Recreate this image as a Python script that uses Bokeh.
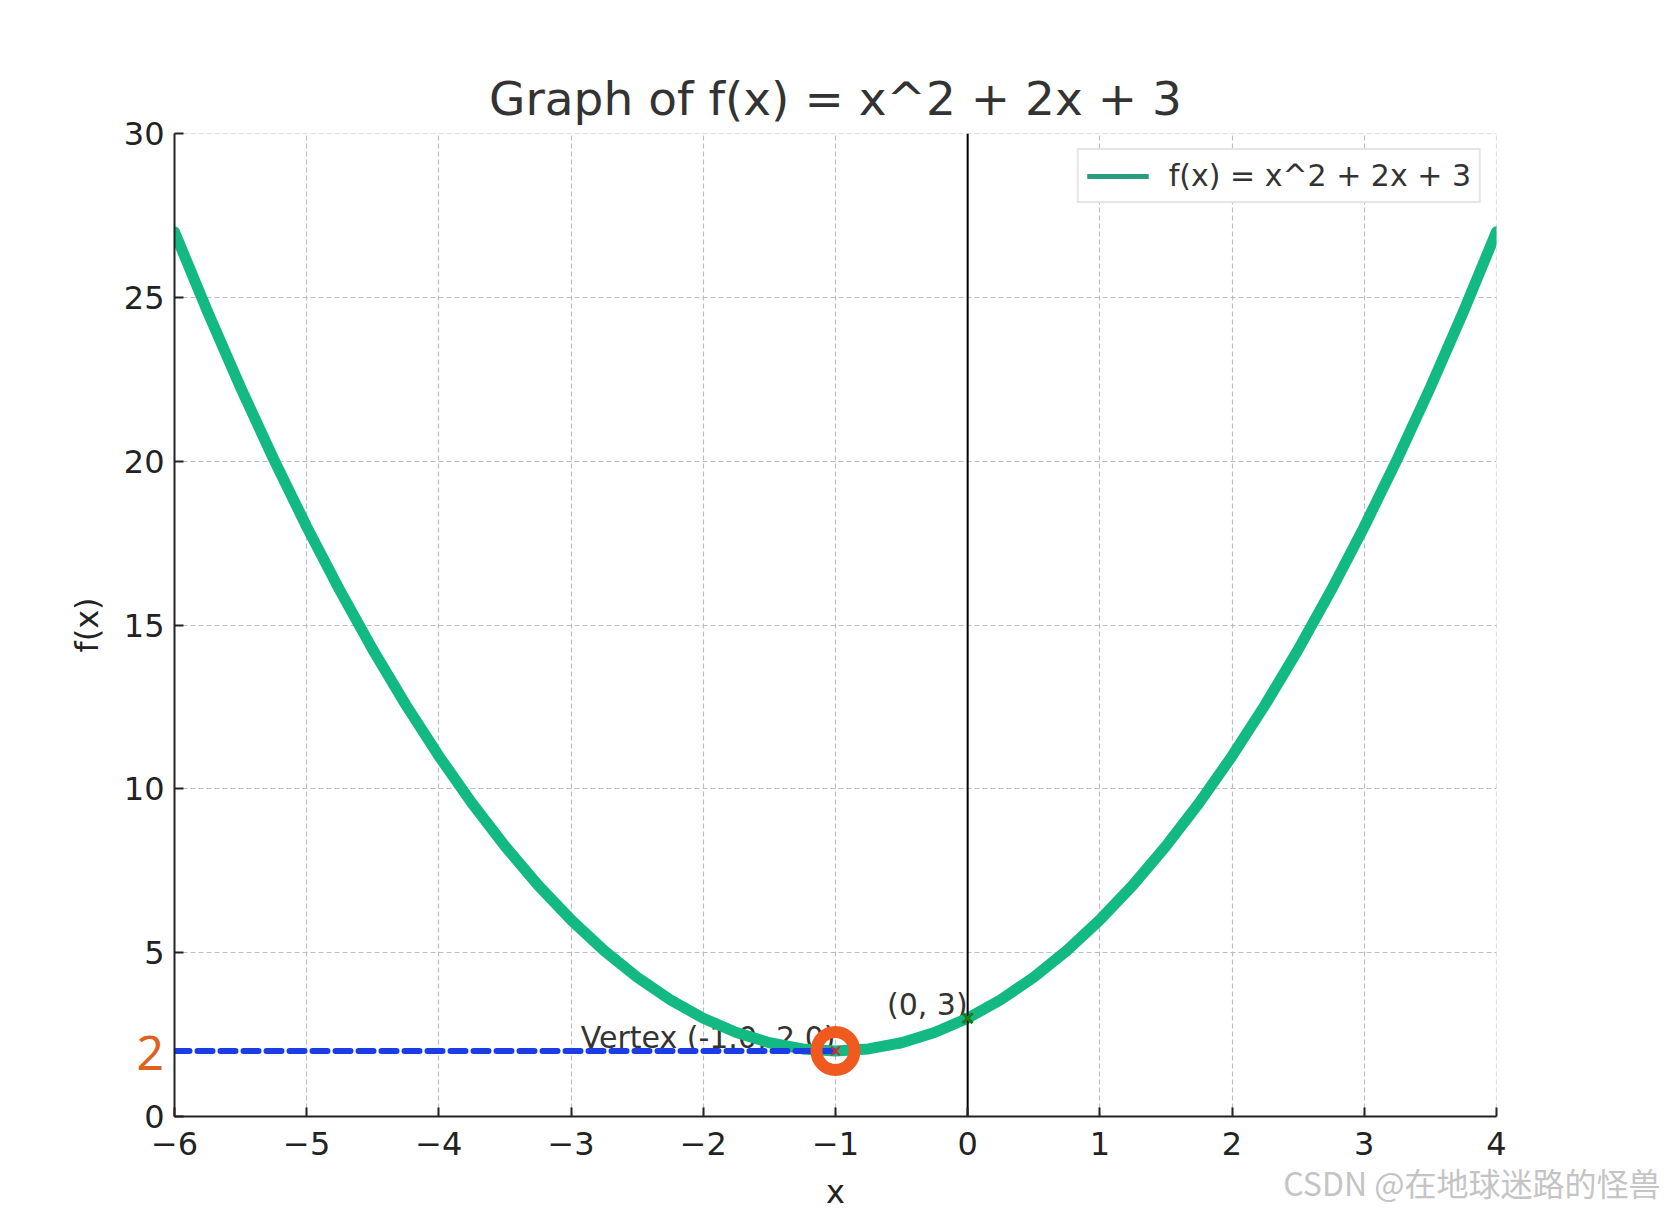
from bokeh.plotting import figure
from bokeh.models import Legend, LegendItem, ColumnDataSource, FixedTicker, Title
from bokeh.embed import file_html
from bokeh.resources import INLINE
from bokeh.core.properties import value

# ---------------- data ----------------
x_vals = [-6.0, -5.75, -5.5, -5.25, -5.0, -4.75, -4.5, -4.25, -4.0, -3.75, -3.5,
          -3.25, -3.0, -2.75, -2.5, -2.25, -2.0, -1.75, -1.5, -1.25, -1.0,
          -0.75, -0.5, -0.25, 0.0, 0.25, 0.5, 0.75, 1.0, 1.25, 1.5, 1.75, 2.0,
          2.25, 2.5, 2.75, 3.0, 3.25, 3.5, 3.75, 4.0]
y_vals = [27.0, 24.5625, 22.25, 20.0625, 18.0, 16.0625, 14.25, 12.5625, 11.0, 9.5625, 8.25,
          7.0625, 6.0, 5.0625, 4.25, 3.5625, 3.0, 2.5625, 2.25, 2.0625, 2.0,
          2.0625, 2.25, 2.5625, 3.0, 3.5625, 4.25, 5.0625, 6.0, 7.0625, 8.25, 9.5625, 11.0,
          12.5625, 14.25, 16.0625, 18.0, 20.0625, 22.25, 24.5625, 27.0]
vertex = (-1.0, 2.0)
y_intercept = (0.0, 3.0)
hline_x = [-6.0, -1.0]
hline_y = [2.0, 2.0]
axvline_x = 0.0
x_ticks = [-6, -5, -4, -3, -2, -1, 0, 1, 2, 3, 4]
x_tick_labels = ["\u22126", "\u22125", "\u22124", "\u22123", "\u22122", "\u22121", "0", "1", "2", "3", "4"]
y_ticks = [0, 5, 10, 15, 20, 25, 30]
y_tick_labels = ["0", "5", "10", "15", "20", "25", "30"]
title_text = "Graph of f(x) = x^2 + 2x + 3"
legend_text = "f(x) = x^2 + 2x + 3"
x_label = "x"
y_label = "f(x)"
vertex_text = "Vertex (-1.0, 2.0)"
intercept_text = "(0, 3)"
highlight_text = "2"
watermark = "CSDN @在地球迷路的怪兽"

FONT = "DejaVu Sans"

# tiny extension past 4 and 30 so that the end grid lines are drawn as in the reference
p = figure(width=1667, height=1213, x_range=(-6, 4.0005), y_range=(0, 30.0005),
           output_backend="svg", toolbar_location=None,
           min_border_left=174, min_border_right=171, min_border_top=133, min_border_bottom=97)
p.outline_line_color = None
p.background_fill_color = "white"
p.border_fill_color = "white"

# title
p.title.text = title_text
p.title.align = "center"
p.title.text_font = FONT
p.title.text_font_size = "47px"
p.title.text_font_style = "normal"
p.title.text_color = "#333333"
p.title.standoff = 16

# axes
for ax in (p.xaxis, p.yaxis):
    ax.axis_line_color = "#222222"
    ax.axis_line_width = 2
    ax.major_tick_line_color = "#222222"
    ax.major_tick_line_width = 2
    ax.major_tick_in = 9
    ax.major_tick_out = 0
    ax.minor_tick_line_color = None
    ax.major_label_text_font = FONT
    ax.major_label_text_font_size = "32px"
    ax.major_label_text_color = "#222222"
    ax.axis_label_text_font = FONT
    ax.axis_label_text_font_size = "32px"
    ax.axis_label_text_font_style = "normal"
    ax.axis_label_text_color = "#222222"
p.xaxis.ticker = FixedTicker(ticks=x_ticks)
p.yaxis.ticker = FixedTicker(ticks=y_ticks)
p.xaxis.major_label_overrides = {t: s for t, s in zip(x_ticks, x_tick_labels)}
p.yaxis.major_label_overrides = {t: s for t, s in zip(y_ticks, y_tick_labels)}
p.xaxis.major_label_standoff = 15
p.yaxis.major_label_standoff = 10
p.xaxis.axis_label = x_label
p.yaxis.axis_label = y_label
p.xaxis.axis_label_standoff = 15
p.yaxis.axis_label_standoff = 15

p.grid.grid_line_color = "#bdbdbd"
p.grid.grid_line_dash = "5 3"
p.grid.grid_line_width = 1.2

# watermark and highlighted "2" as extra titles in the bottom panel
wm_title = Title(text=watermark, align="right", vertical_align="top", offset=-164, standoff=-110,
                 text_font="Noto Sans CJK SC", text_font_size="32px", text_font_style="normal",
                 text_color="#c4c4c4")
p.add_layout(wm_title, "below")
hl_title = Title(text=highlight_text, align="left", vertical_align="top", offset=-38, standoff=-355,
                 text_font="Noto Sans", text_font_size="48px", text_font_style="normal",
                 text_color="#e0601e")
p.add_layout(hl_title, "below")

# annotation texts (beneath curve)
p.text(x=[vertex[0]], y=[vertex[1]], text=[vertex_text], text_align="right",
       text_baseline="alphabetic", y_offset=-13, text_font=value(FONT),
       text_font_size="30px", text_color="#333333")
p.text(x=[y_intercept[0]], y=[y_intercept[1]], text=[intercept_text], text_align="right",
       text_baseline="alphabetic", y_offset=-14, text_font=value(FONT),
       text_font_size="30px", text_color="#333333")

# curve
p.line(x_vals, y_vals, line_color="#12b982", line_width=11, line_cap="round", line_join="round")

# vertical line at x=0
p.segment(x0=[axvline_x], y0=[0], x1=[axvline_x], y1=[30], line_color="black", line_width=2)

# blue dashed horizontal
p.line(hline_x, hline_y, line_color="#1a3de6", line_width=6, line_dash="15 8", line_cap="round")

# markers
p.scatter([vertex[0]], [vertex[1]], marker="x", size=12, line_color="#d62728", line_width=2)
p.scatter([y_intercept[0]], [y_intercept[1]], marker="x", size=14, line_color="#1d7a1d", line_width=3)
p.scatter([vertex[0]], [vertex[1]], marker="circle", size=38, fill_color=None,
          line_color="#f05a1e", line_width=12)

# legend (separate legend glyph style)
nan = float("nan")
leg_src = ColumnDataSource(data=dict(x=[nan, nan], y=[nan, nan]))
leg_r = p.line("x", "y", source=leg_src, line_color="#2a9d7f", line_width=5)
legend = Legend(items=[LegendItem(label=legend_text, renderers=[leg_r])], location="top_right")
legend.label_text_font = FONT
legend.label_text_font_size = "30px"
legend.label_text_color = "#333333"
legend.glyph_width = 62
legend.glyph_height = 24
legend.label_standoff = 20
legend.padding = 8
legend.margin = 15
legend.border_line_color = "#cccccc"
legend.border_line_width = 2
legend.background_fill_alpha = 1.0
p.add_layout(legend)

open("out.html", "w").write(file_html(p, INLINE))
